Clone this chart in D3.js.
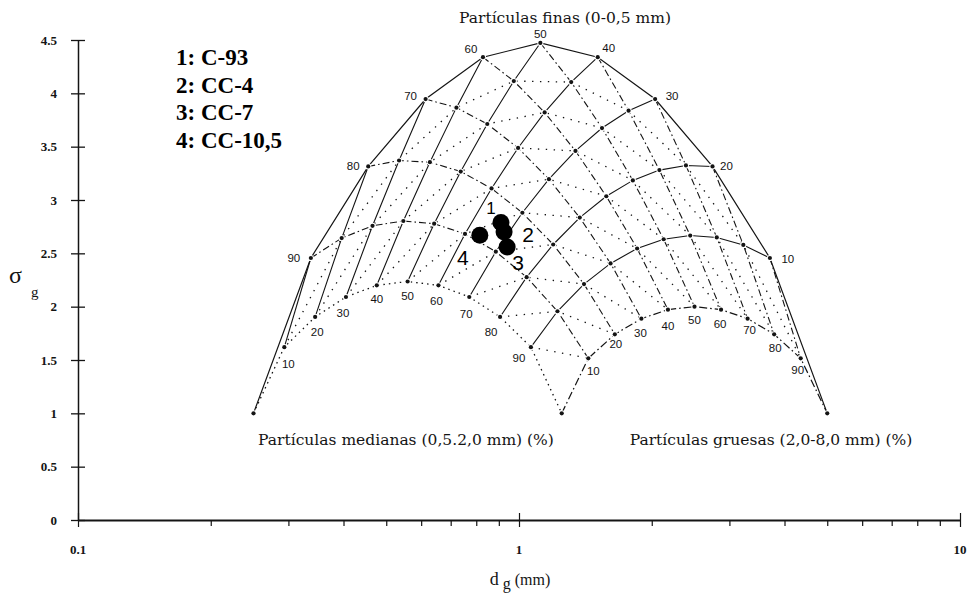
<!DOCTYPE html>
<html>
<head>
<meta charset="utf-8">
<script src="https://cdn.jsdelivr.net/npm/d3@7"></script>
<style>
  body { margin: 0; background: #fff; }
  svg { display: block; }
</style>
</head>
<body>
<div id="chart"></div>
<script>
// clases de partículas: límites en mm (finas, medianas, gruesas)
let clases = ['finas', 'medianas', 'gruesas']
let limites = [[0, 0.5], [0.5, 2.0], [2.0, 8.0]]
// porcentajes de la malla ternaria
let porcentajes = [10, 20, 30, 40, 50, 60, 70, 80, 90]
// muestras
let muestras = ['C-93', 'CC-4', 'CC-7', 'CC-10,5']
let dgMuestras = [0.91, 0.925, 0.94, 0.815]
let sgMuestras = [2.79, 2.70, 2.56, 2.67]
// ejes
let yTicks = [0, 0.5, 1, 1.5, 2, 2.5, 3, 3.5, 4, 4.5]
let xTicks = [0.1, 1, 10]

let ancho = 975
let alto = 596

let svg = d3.select('#chart')
  .append('svg')
  .attr('width', ancho)
  .attr('height', alto)

let x = d3.scaleLog().domain([0.1, 10]).range([78, 960])
let y = d3.scaleLinear().domain([0, 4.5]).range([520, 40])

// diámetro medio de cada clase
let lnd = limites.map(l => Math.log((l[0] + l[1]) / 2))

// composición (fracciones) -> [dg, sigma g]
function tern(f, m, c) {
  let w = [f, m, c]
  let a = d3.sum(w, (p, i) => p * lnd[i])
  let b = d3.sum(w, (p, i) => p * lnd[i] * lnd[i])
  return [Math.exp(a), Math.exp(Math.sqrt(Math.max(0, b - a * a)))]
}

// tramo recto entre nodos de la malla (pasos del 10 %)
function tramo(A, B) {
  let n = Math.max(1, Math.round(d3.max(A.map((a, i) => Math.abs(B[i] - a))) * 10))
  return d3.range(n + 1).map(k => {
    let t = k / n
    return tern(...A.map((a, i) => a + (B[i] - a) * t))
  })
}

let linea = d3.line().x(d => x(d[0])).y(d => y(d[1]))

let negro = '#141414'
let malla = svg.append('g').attr('fill', 'none').attr('stroke', negro)

// líneas de finas constantes (continuas)
porcentajes.forEach(p => {
  let f = p / 100
  malla.append('path').attr('d', linea(tramo([f, 0, 1 - f], [f, 1 - f, 0])))
    .attr('stroke-width', 1.1)
})
// líneas de gruesas constantes (trazo-punto)
porcentajes.forEach(p => {
  let c = p / 100
  malla.append('path').attr('d', linea(tramo([1 - c, 0, c], [0, 1 - c, c])))
    .attr('stroke-width', 1.1)
    .attr('stroke-dasharray', '7,3,1.6,3')
})
// líneas de medianas constantes (punteadas)
porcentajes.forEach(p => {
  let m = p / 100
  malla.append('path').attr('d', linea(tramo([1 - m, m, 0], [0, m, 1 - m])))
    .attr('stroke-width', 1.3)
    .attr('stroke-dasharray', '1.4,6.5')
})
// bordes
malla.append('path').attr('d', linea(tramo([1, 0, 0], [0, 0, 1])))
  .attr('stroke-width', 1.2)
malla.append('path').attr('d', linea(tramo([1, 0, 0], [0, 1, 0])))
  .attr('stroke-width', 1.3)
  .attr('stroke-dasharray', '1.5,4')
malla.append('path').attr('d', linea(tramo([0, 1, 0], [0, 0, 1])))
  .attr('stroke-width', 1.2)
  .attr('stroke-dasharray', '8,3,1.6,3')

// nodos
let nodos = []
for (let i = 0; i <= 10; i++) {
  for (let j = 0; j <= 10 - i; j++) {
    nodos.push(tern(i / 10, j / 10, (10 - i - j) / 10))
  }
}
svg.append('g').selectAll('circle')
  .data(nodos)
  .enter()
  .append('circle')
  .attr('cx', d => x(d[0]))
  .attr('cy', d => y(d[1]))
  .attr('r', 2.1)
  .attr('fill', negro)
  .attr('stroke', '#fff')
  .attr('stroke-width', 2)
  .attr('paint-order', 'stroke')

// etiquetas de porcentaje
let despExt = [[18, 1], [14, 0], [17, -3], [11, -9], [0, -9], [-12, -8], [-15, -3], [-15, 0], [-17, 0]]
let despMed = [[4, 17], [2, 15], [-3, 16], [0, 14], [0, 15], [-2, 16], [-3, 17], [-9, 15], [-12, 11]]
let despGru = [[5, 13], [1, 10], [-1, 14], [0, 16], [0, 13], [-1, 14], [2, 11], [1, 14], [-3, 12]]

let etiquetas = svg.append('g')
  .attr('font-family', 'Liberation Sans, Arial, sans-serif')
  .attr('font-size', 11.5)
  .attr('fill', negro)
  .attr('text-anchor', 'middle')

function ponEtiquetas(comp, desp) {
  etiquetas.selectAll(null)
    .data(porcentajes)
    .enter()
    .append('text')
    .attr('x', (p, i) => x(tern(...comp(p / 100))[0]) + desp[i][0])
    .attr('y', (p, i) => y(tern(...comp(p / 100))[1]) + desp[i][1])
    .attr('dominant-baseline', 'central')
    .text(p => p)
}
ponEtiquetas(f => [f, 0, 1 - f], despExt)
ponEtiquetas(m => [1 - m, m, 0], despMed)
ponEtiquetas(c => [0, 1 - c, c], despGru)

// títulos de las clases
let serif = 'Liberation Serif, Times New Roman, serif'
let titulos = [
  { t: 'Partículas finas (0-0,5 mm)', x: 565, y: 23 },
  { t: 'Partículas medianas (0,5.2,0 mm) (%)', x: 406, y: 445 },
  { t: 'Partículas gruesas (2,0-8,0 mm) (%)', x: 771, y: 445 }
]
svg.append('g').selectAll('text')
  .data(titulos)
  .enter()
  .append('text')
  .attr('x', d => d.x)
  .attr('y', d => d.y)
  .attr('text-anchor', 'middle')
  .attr('font-family', 'DejaVu Serif, serif')
  .attr('font-size', 15.5)
  .attr('fill', negro)
  .text(d => d.t)

// muestras
let despNum = [[-10, -14], [24, 2], [11, 16], [-17, 22]]
let gm = svg.append('g')
gm.selectAll('circle')
  .data(muestras)
  .enter()
  .append('circle')
  .attr('cx', (d, i) => x(dgMuestras[i]))
  .attr('cy', (d, i) => y(sgMuestras[i]))
  .attr('r', 8.5)
  .attr('fill', '#000')
gm.selectAll('text')
  .data(muestras)
  .enter()
  .append('text')
  .attr('x', (d, i) => x(dgMuestras[i]) + despNum[i][0])
  .attr('y', (d, i) => y(sgMuestras[i]) + despNum[i][1])
  .attr('text-anchor', 'middle')
  .attr('dominant-baseline', 'central')
  .attr('font-family', 'Liberation Sans, Arial, sans-serif')
  .attr('font-size', (d, i) => i == 0 ? 17 : 21)
  .attr('fill', '#000')
  .text((d, i) => i + 1)

// leyenda
svg.append('g').selectAll('text')
  .data(muestras)
  .enter()
  .append('text')
  .attr('x', 176)
  .attr('y', (d, i) => 65 + i * 27.7)
  .attr('font-family', serif)
  .attr('font-weight', 'bold')
  .attr('font-size', 23)
  .attr('fill', '#000')
  .text((d, i) => (i + 1) + ': ' + d)

// eje Y
let ejeY = svg.append('g')
  .attr('transform', 'translate(78,0)')
  .call(d3.axisLeft(y).tickValues(yTicks).tickFormat(d3.format('')).tickSizeOuter(0))
ejeY.select('.domain').attr('stroke', negro).attr('stroke-width', 1.5)
ejeY.selectAll('.tick line').attr('x1', -7).attr('x2', 7).attr('stroke', negro).attr('stroke-width', 1.3)
ejeY.selectAll('.tick text')
  .attr('x', -21)
  .attr('font-family', serif)
  .attr('font-weight', 'bold')
  .attr('font-size', 13)
  .attr('fill', negro)

// eje X
let ejeX = svg.append('g')
  .attr('transform', 'translate(0,520)')
  .call(d3.axisBottom(x).tickValues(x.ticks()).tickFormat('').tickSize(6).tickSizeOuter(0))
ejeX.select('.domain').attr('stroke', negro).attr('stroke-width', 2)
ejeX.selectAll('.tick line').attr('stroke', negro).attr('stroke-width', 1.2)
ejeX.selectAll('.tick')
  .filter(d => xTicks.includes(d))
  .select('line').attr('y1', -7).attr('y2', 7)
ejeX.selectAll(null)
  .data(xTicks)
  .enter()
  .append('text')
  .attr('x', d => x(d))
  .attr('y', 34)
  .attr('text-anchor', 'middle')
  .attr('font-family', serif)
  .attr('font-weight', 'bold')
  .attr('font-size', 13)
  .attr('fill', negro)
  .text(d => d)

// títulos de los ejes
let tx = svg.append('text')
  .attr('x', 520)
  .attr('y', 585)
  .attr('text-anchor', 'middle')
  .attr('font-family', serif)
  .attr('font-size', 18)
  .attr('fill', negro)
tx.append('tspan').text('d')
tx.append('tspan').attr('dy', 4).attr('font-size', 16).text(' g')
tx.append('tspan').attr('dy', -4).attr('font-size', 16).text(' (mm)')

let ty = svg.append('text')
  .attr('x', 9)
  .attr('y', 283)
  .attr('font-family', serif)
  .attr('font-size', 24)
  .attr('fill', negro)
ty.append('tspan').text('σ')
ty.append('tspan').attr('dx', 9).attr('dy', 14).attr('font-size', 15).text('g')
</script>
</body>
</html>
